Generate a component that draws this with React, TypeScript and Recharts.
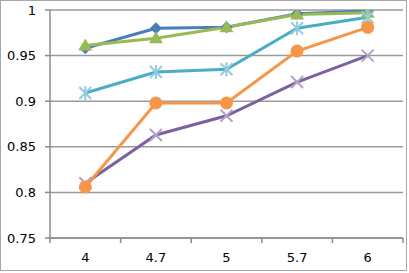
import React from 'react';
import { LineChart, Line, XAxis, YAxis, CartesianGrid } from 'recharts';

const categories = ['4', '4.7', '5', '5.7', '6'];
const blueValues = [0.958, 0.98, 0.981, 0.996, 0.999];
const greenValues = [0.961, 0.969, 0.981, 0.995, 0.997];
const purpleValues = [0.81, 0.863, 0.884, 0.921, 0.95];
const tealValues = [0.909, 0.932, 0.935, 0.98, 0.992];
const orangeValues = [0.806, 0.898, 0.898, 0.955, 0.981];
const yTicks = [0.75, 0.8, 0.85, 0.9, 0.95, 1];

const data = categories.map((c, i) => ({
  name: c,
  blue: blueValues[i],
  green: greenValues[i],
  purple: purpleValues[i],
  teal: tealValues[i],
  orange: orangeValues[i],
}));

const W = 409;
const H = 273;
const margin = { top: 10, right: 6, bottom: 0, left: 0 };
const yAxisWidth = 50;
const band = (W - margin.right - margin.left - yAxisWidth) / categories.length;
const font = 'DejaVu Sans, Verdana, sans-serif';

const Diamond = ({ cx, cy, color }: any) => (
  <path d={`M${cx},${cy - 6} L${cx + 6},${cy} L${cx},${cy + 6} L${cx - 6},${cy} Z`} fill={color} />
);
const Triangle = ({ cx, cy, color }: any) => (
  <path d={`M${cx},${cy - 7} L${cx + 7},${cy + 5} L${cx - 7},${cy + 5} Z`} fill={color} />
);
const Circle = ({ cx, cy, color }: any) => <circle cx={cx} cy={cy} r={6.5} fill={color} />;
const Cross = ({ cx, cy, color }: any) => (
  <path d={`M${cx - 6},${cy - 6} L${cx + 6},${cy + 6} M${cx + 6},${cy - 6} L${cx - 6},${cy + 6}`} stroke={color} strokeWidth={2} />
);
const Star = ({ cx, cy, color }: any) => (
  <path
    d={`M${cx - 6},${cy - 6} L${cx + 6},${cy + 6} M${cx + 6},${cy - 6} L${cx - 6},${cy + 6} M${cx},${cy - 7} L${cx},${cy + 7}`}
    stroke={color}
    strokeWidth={2}
  />
);

const XTick = ({ x, y, payload, index }: any) => (
  <g>
    <line x1={x - band / 2} y1={y - 8} x2={x - band / 2} y2={y - 3} stroke="#8c8c8c" strokeWidth={1.5} />
    {index === categories.length - 1 && (
      <line x1={x + band / 2} y1={y - 8} x2={x + band / 2} y2={y - 3} stroke="#8c8c8c" strokeWidth={1.5} />
    )}
    <text x={x} y={y + 16} textAnchor="middle" fontSize={13} fontFamily={font} fill="#000">
      {payload.value}
    </text>
  </g>
);

const series = [
  { key: 'blue', color: '#4a7ebb', marker: Diamond, markColor: '#4a7ebb' },
  { key: 'green', color: '#98b954', marker: Triangle, markColor: '#98b954' },
  { key: 'purple', color: '#7d60a0', marker: Cross, markColor: '#b3a2c7' },
  { key: 'teal', color: '#4bacc6', marker: Star, markColor: '#93cddd' },
  { key: 'orange', color: '#f79646', marker: Circle, markColor: '#f79646' },
];

export default function App() {
  return (
    <div style={{ position: 'absolute', left: 0, top: 0, width: W, height: H, background: '#fff' }}>
      <div
        style={{
          position: 'absolute',
          left: 0,
          top: 0,
          width: W - 4,
          height: H - 4,
          border: '1.5px solid #a6a6a6',
        }}
      />
      <LineChart width={W} height={H} data={data} margin={margin}>
        <CartesianGrid vertical={false} stroke="#9a9a9a" strokeWidth={1.5} />
        <XAxis
          dataKey="name"
          height={H - 238}
          axisLine={{ stroke: '#8c8c8c', strokeWidth: 1.5 }}
          tickLine={false}
          tick={<XTick />}
          interval={0}
          padding={{ left: band / 2, right: band / 2 }}
        />
        <YAxis
          width={yAxisWidth}
          domain={[0.75, 1]}
          ticks={yTicks}
          allowDataOverflow
          axisLine={{ stroke: '#8c8c8c', strokeWidth: 1.5 }}
          tickLine={{ stroke: '#8c8c8c', strokeWidth: 1.5 }}
          tickSize={5}
          tickMargin={9}
          tick={{ fontSize: 13, fontFamily: font, fill: '#000' }}
        />
        {series.map((s) => {
          const M = s.marker;
          return (
            <Line
              key={s.key}
              type="linear"
              dataKey={s.key}
              stroke={s.color}
              strokeWidth={3}
              isAnimationActive={false}
              dot={(p: any) => <M key={`${s.key}-${p.index}`} cx={p.cx} cy={p.cy} color={s.markColor} />}
              activeDot={false}
            />
          );
        })}
      </LineChart>
    </div>
  );
}
